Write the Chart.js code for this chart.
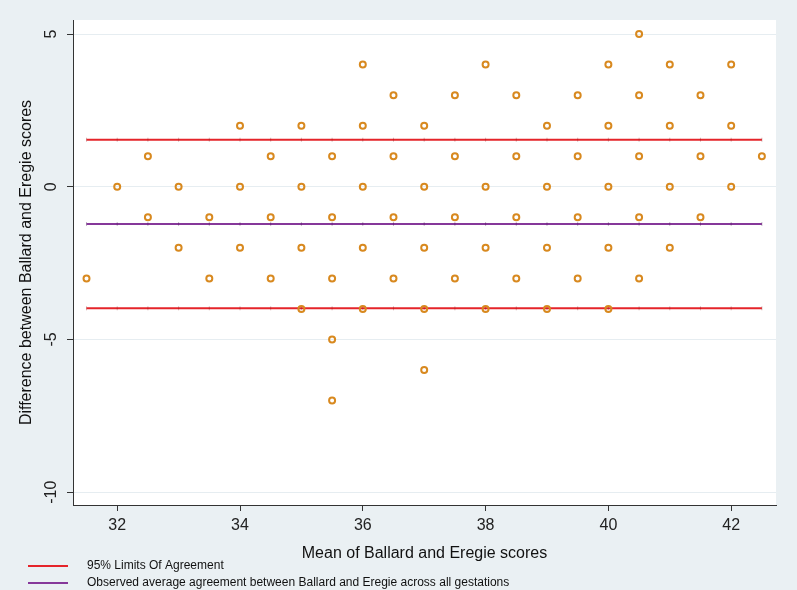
<!DOCTYPE html>
<html>
<head>
<meta charset="utf-8">
<script src="https://cdn.jsdelivr.net/npm/chart.js@4.4.1/dist/chart.umd.min.js"></script>
<style>
  html, body { margin: 0; padding: 0; background: #eaf0f3; }
  #wrap { width: 797px; height: 590px; }
</style>
</head>
<body>
<div id="wrap"><canvas id="c" width="797" height="590"></canvas></div>
<script>
// ---- data ----
const meanScores = [
  31.5,
  32,
  32.5, 32.5,
  33, 33,
  33.5, 33.5,
  34, 34, 34,
  34.5, 34.5, 34.5,
  35, 35, 35, 35,
  35.5, 35.5, 35.5, 35.5, 35.5,
  36, 36, 36, 36, 36,
  36.5, 36.5, 36.5, 36.5,
  37, 37, 37, 37, 37,
  37.5, 37.5, 37.5, 37.5,
  38, 38, 38, 38,
  38.5, 38.5, 38.5, 38.5,
  39, 39, 39, 39,
  39.5, 39.5, 39.5, 39.5,
  40, 40, 40, 40, 40,
  40.5, 40.5, 40.5, 40.5, 40.5,
  41, 41, 41, 41,
  41.5, 41.5, 41.5,
  42, 42, 42,
  42.5
];
const diffScores = [
  -3,
  0,
  1, -1,
  0, -2,
  -1, -3,
  2, 0, -2,
  1, -1, -3,
  2, 0, -2, -4,
  1, -1, -3, -5, -7,
  4, 2, 0, -2, -4,
  3, 1, -1, -3,
  2, 0, -2, -4, -6,
  3, 1, -1, -3,
  4, 0, -2, -4,
  3, 1, -1, -3,
  2, 0, -2, -4,
  3, 1, -1, -3,
  4, 2, 0, -2, -4,
  5, 3, 1, -1, -3,
  4, 2, 0, -2,
  3, 1, -1,
  4, 2, 0,
  1
];
const lineX = [31.5, 32, 32.5, 33, 33.5, 34, 34.5, 35, 35.5, 36, 36.5, 37, 37.5, 38, 38.5, 39, 39.5, 40, 40.5, 41, 41.5, 42, 42.5];
const upperLimit = 1.54;
const meanDiff = -1.22;
const lowerLimit = -3.98;
const xTicks = [32, 34, 36, 38, 40, 42];
const yTicks = [-10, -5, 0, 5];
const legendLimits = '95% Limits Of Agreement';
const legendMean = 'Observed average agreement between Ballard and Eregie across all gestations';
const xTitle = 'Mean of Ballard and Eregie scores';
const yTitle = 'Difference between Ballard and Eregie scores';

// ---- build datasets ----
const FONT = '"Liberation Sans", Arial, Helvetica, sans-serif';
const RED = '#e5242a';
const PURPLE = '#86389a';
const ORANGE = '#d8891f';

function constLine(v) { return lineX.map(x => ({ x: x, y: v })); }
const scatterPts = meanScores.map((m, i) => ({ x: m, y: diffScores[i] }));

function lineDataset(label, value, color, tickColor) {
  return {
    type: 'line', label: label, data: constLine(value),
    borderColor: color, borderWidth: 2, fill: false, tension: 0,
    pointStyle: 'line', pointRotation: 90, pointRadius: 2,
    pointBorderWidth: 1, pointBorderColor: tickColor, pointBackgroundColor: tickColor,
    pointHoverRadius: 0, order: 2, showInLegend: true
  };
}

const datasets = [
  lineDataset(legendLimits, upperLimit, RED, 'rgba(130,20,20,0.3)'),
  lineDataset(legendLimits, lowerLimit, RED, 'rgba(130,20,20,0.3)'),
  lineDataset(legendMean, meanDiff, PURPLE, 'rgba(60,10,70,0.3)'),
  {
    type: 'scatter', label: 'diff', data: scatterPts,
    pointRadius: 3, pointBorderWidth: 2, pointBorderColor: ORANGE,
    pointBackgroundColor: 'rgba(0,0,0,0)', showLine: false, order: 1, showInLegend: false
  }
];

const bgPlugin = {
  id: 'bg',
  beforeDraw(chart) {
    const { ctx, chartArea: a } = chart;
    ctx.save();
    ctx.fillStyle = '#eaf0f3';
    ctx.fillRect(0, 0, chart.width, chart.height);
    ctx.fillStyle = '#ffffff';
    ctx.fillRect(a.left, a.top, a.right - a.left, a.bottom - a.top);
    ctx.restore();
  }
};

const yLabelPlugin = {
  id: 'yRotLabels',
  afterDraw(chart) {
    const { ctx } = chart;
    const ys = chart.scales.y;
    ctx.save();
    ctx.fillStyle = '#222';
    ctx.font = '16px ' + FONT;
    ctx.textAlign = 'center';
    ctx.textBaseline = 'middle';
    ys.ticks.forEach(t => {
      const py = ys.getPixelForValue(t.value);
      ctx.save();
      ctx.translate(52, py);
      ctx.rotate(-Math.PI / 2);
      ctx.fillText(String(t.value), 0, 0);
      ctx.restore();
    });
    ctx.restore();
  }
};

const legendPlugin = {
  id: 'customLegend',
  afterDraw(chart) {
    const { ctx } = chart;
    const seen = [];
    chart.data.datasets.forEach(ds => {
      if (ds.showInLegend && !seen.find(s => s.label === ds.label)) seen.push(ds);
    });
    const rowY = [566, 583];
    ctx.save();
    ctx.font = '12px ' + FONT;
    ctx.textBaseline = 'middle';
    ctx.textAlign = 'left';
    seen.forEach((ds, i) => {
      const y = rowY[i];
      ctx.strokeStyle = ds.borderColor;
      ctx.lineWidth = 2;
      ctx.beginPath();
      ctx.moveTo(28, y);
      ctx.lineTo(68, y);
      ctx.stroke();
      ctx.fillStyle = '#111';
      ctx.fillText(ds.label, 87, y);
    });
    ctx.restore();
  }
};

new Chart(document.getElementById('c'), {
  data: { datasets: datasets },
  options: {
    responsive: false,
    animation: false,
    events: [],
    layout: { padding: { top: 20, right: 21, left: 0, bottom: 25 } },
    plugins: { legend: { display: false }, tooltip: { enabled: false } },
    scales: {
      x: {
        type: 'linear', min: 31.28, max: 42.73,
        afterBuildTicks: s => { s.ticks = xTicks.map(v => ({ value: v })); },
        afterFit: s => { s.height = 60; },
        grid: { drawOnChartArea: false, drawTicks: true, tickLength: 6, tickColor: '#333', tickWidth: 1 },
        border: { display: true, color: '#333', width: 1 },
        ticks: { color: '#222', font: { family: FONT, size: 16 }, padding: 5, maxRotation: 0 },
        title: { display: true, text: xTitle, color: '#111', font: { family: FONT, size: 16 }, padding: { top: 0, bottom: 2 } }
      },
      y: {
        type: 'linear', min: -10.42, max: 5.46,
        afterBuildTicks: s => { s.ticks = yTicks.map(v => ({ value: v })); },
        afterFit: s => { s.width = 73; },
        grid: { color: '#e6edf1', lineWidth: 1, drawTicks: true, tickLength: 6, tickColor: '#333', tickWidth: 1 },
        border: { display: true, color: '#333', width: 1 },
        ticks: { display: false },
        title: { display: true, text: yTitle, color: '#111', font: { family: FONT, size: 16 }, padding: { top: 17, bottom: 0 } }
      }
    }
  },
  plugins: [bgPlugin, yLabelPlugin, legendPlugin]
});
</script>
</body>
</html>
